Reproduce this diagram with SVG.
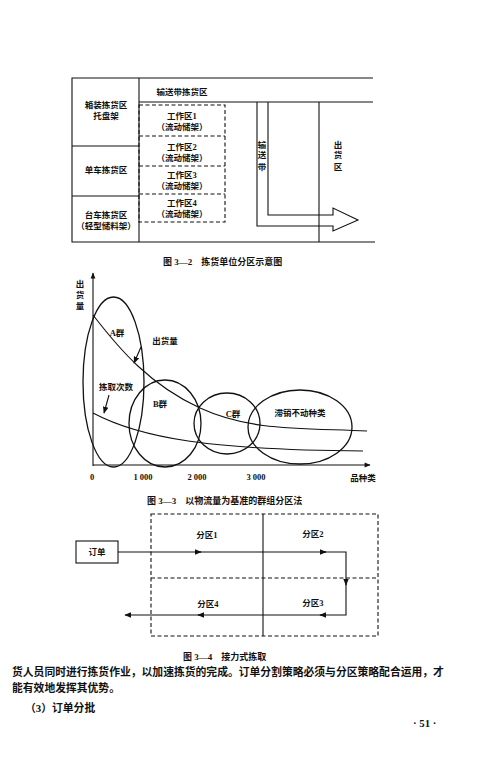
<svg xmlns="http://www.w3.org/2000/svg" width="500" height="769" viewBox="0 0 500 769">
<defs>
<style>
.ln{fill:none;stroke:#111;stroke-width:1.1}
.ds{fill:none;stroke:#111;stroke-width:1.1;stroke-dasharray:4,2.5}
.el{fill:none;stroke:#111;stroke-width:1.3}
.t{font-family:"Liberation Serif","Noto Sans CJK SC",serif;font-weight:bold;font-size:8.5px;fill:#111;text-anchor:middle}
.cap{font-family:"Liberation Serif","Noto Sans CJK SC",serif;font-weight:bold;font-size:9px;fill:#111}
.body{font-family:"Liberation Serif","Noto Sans CJK SC",serif;font-weight:bold;font-size:10.8px;fill:#111}
</style>
<marker id="ah" viewBox="0 0 10 10" refX="9" refY="5" markerWidth="7" markerHeight="7" orient="auto" markerUnits="userSpaceOnUse">
<path d="M0,1 L10,5 L0,9 Z" fill="#111"/>
</marker>
<marker id="ax" viewBox="0 0 10 10" refX="9" refY="5" markerWidth="8" markerHeight="6" orient="auto" markerUnits="userSpaceOnUse">
<path d="M0,1 L10,5 L0,9 Z" fill="#111"/>
</marker>
</defs>
<rect width="500" height="769" fill="#fff"/>

<!-- Figure 3-2 -->
<g id="fig32-frame">
<path class="ln" d="M373,78 H72 V242 H375"/>
<line class="ln" x1="139" y1="78" x2="139" y2="242"/>
<line class="ln" x1="72" y1="146" x2="139" y2="146"/>
<line class="ln" x1="72" y1="196" x2="139" y2="196"/>
<line class="ln" x1="139" y1="102" x2="373" y2="102"/>
<line class="ln" x1="319" y1="102" x2="319" y2="242"/>
</g>
<g id="zone-box"><text class="t" x="106" y="108">箱装拣货区</text><text class="t" x="106" y="119">托盘架</text></g>
<g id="zone-cart"><text class="t" x="106" y="173">单车拣货区</text></g>
<g id="zone-trolley"><text class="t" x="106" y="218">台车拣货区</text><text class="t" x="106" y="229">（轻型储料架）</text></g>
<g id="zone-conveyor"><text class="t" x="182" y="95">输送带拣货区</text></g>
<g id="work-areas">
<rect class="ds" x="139" y="105" width="86" height="117"/>
<line class="ds" x1="139" y1="136" x2="225" y2="136"/>
<line class="ds" x1="139" y1="166" x2="225" y2="166"/>
<line class="ds" x1="139" y1="194" x2="225" y2="194"/>
</g>
<g id="wa1"><text class="t" x="182" y="119">工作区1</text><text class="t" x="182" y="130">（流动储架）</text></g>
<g id="wa2"><text class="t" x="182" y="150">工作区2</text><text class="t" x="182" y="161">（流动储架）</text></g>
<g id="wa3"><text class="t" x="182" y="178">工作区3</text><text class="t" x="182" y="189">（流动储架）</text></g>
<g id="wa4"><text class="t" x="182" y="206">工作区4</text><text class="t" x="182" y="217">（流动储架）</text></g>
<g id="conveyor">
<path class="ln" d="M257,102 V226 H333 V231 L358,220 L333,208 V215 H268 V102"/>
<text class="t" x="262" y="148">输</text><text class="t" x="262" y="158">送</text><text class="t" x="262" y="170">带</text>
</g>
<g id="ship-zone">
<text class="t" x="338" y="148">出</text><text class="t" x="338" y="158">货</text><text class="t" x="338" y="170">区</text>
</g>
<text class="cap" x="163" y="265">图 3—2　拣货单位分区示意图</text>

<!-- Figure 3-3 -->
<g id="axes">
<line class="ln" x1="93" y1="466" x2="93" y2="273" marker-end="url(#ax)"/>
<line class="ln" x1="93" y1="465" x2="370" y2="465" marker-end="url(#ax)"/>
<text class="t" x="80" y="287">出</text><text class="t" x="80" y="298">货</text><text class="t" x="80" y="309">量</text>
<text class="t" x="92" y="480">0</text>
<text class="t" x="143" y="480">1 000</text>
<text class="t" x="197" y="480">2 000</text>
<text class="t" x="256" y="480">3 000</text>
<text class="t" x="363" y="481">品种类</text>
</g>
<g id="curves">
<path class="ln" d="M93,315 C120,350 150,385 200,408 S300,428 367,431"/>
<path class="ln" d="M93,413 C140,438 210,450 363,451"/>
</g>
<g id="group-A"><ellipse class="el" cx="113.5" cy="382" rx="30.5" ry="85"/><text class="t" x="117" y="336">A群</text></g>
<g id="group-B"><ellipse class="el" cx="165" cy="423.5" rx="36" ry="43.5"/><text class="t" x="160" y="407">B群</text></g>
<g id="group-C"><ellipse class="el" cx="227" cy="423.5" rx="33" ry="30.5"/><text class="t" x="233" y="417">C群</text></g>
<g id="group-D"><ellipse class="el" cx="300" cy="427" rx="52" ry="37"/><text class="t" x="300" y="416">滞销不动种类</text></g>
<g id="label-volume"><text class="t" x="165" y="344">出货量</text><line class="ln" x1="141" y1="347" x2="134" y2="363" marker-end="url(#ah)"/></g>
<g id="label-picks"><text class="t" x="116" y="390">拣取次数</text><line class="ln" x1="109" y1="395" x2="104" y2="413" marker-end="url(#ah)"/></g>
<text class="cap" x="147" y="504">图 3—3　以物流量为基准的群组分区法</text>

<!-- Figure 3-4 -->
<g id="zones">
<rect class="ds" x="151" y="514" width="227" height="122"/>
<line class="ds" x1="151" y1="578" x2="378" y2="578"/>
<line class="ln" x1="263" y1="514" x2="263" y2="636"/>
</g>
<g id="order"><rect class="ln" x="76" y="541" width="42" height="22"/><text class="t" x="97" y="555">订单</text></g>
<g id="z1"><text class="t" x="207" y="538">分区1</text></g>
<g id="z2"><text class="t" x="313" y="537">分区2</text></g>
<g id="z3"><text class="t" x="313" y="606">分区3</text></g>
<g id="z4"><text class="t" x="208" y="607">分区4</text></g>
<g id="connectors">
<path class="ln" d="M118,552 H346 V615 H125" marker-end="url(#ah)"/>
<path class="ln" d="M196,552 H201" marker-end="url(#ah)"/>
<path class="ln" d="M321,552 H326" marker-end="url(#ah)"/>
<path class="ln" d="M346,579 V585" marker-end="url(#ah)"/>
<path class="ln" d="M326,615 H320" marker-end="url(#ah)"/>
<path class="ln" d="M204,615 H198" marker-end="url(#ah)"/>
</g>
<text class="cap" x="183" y="660">图 3—4　接力式拣取</text>

<!-- body text -->
<text class="body" x="12" y="676">货人员同时进行拣货作业，以加速拣货的完成。订单分割策略必须与分区策略配合运用，才</text>
<text class="body" x="12" y="692">能有效地发挥其优势。</text>
<text class="body" x="25" y="712">（3）订单分批</text>
<text class="body" x="413" y="727">· 51 ·</text>
</svg>
